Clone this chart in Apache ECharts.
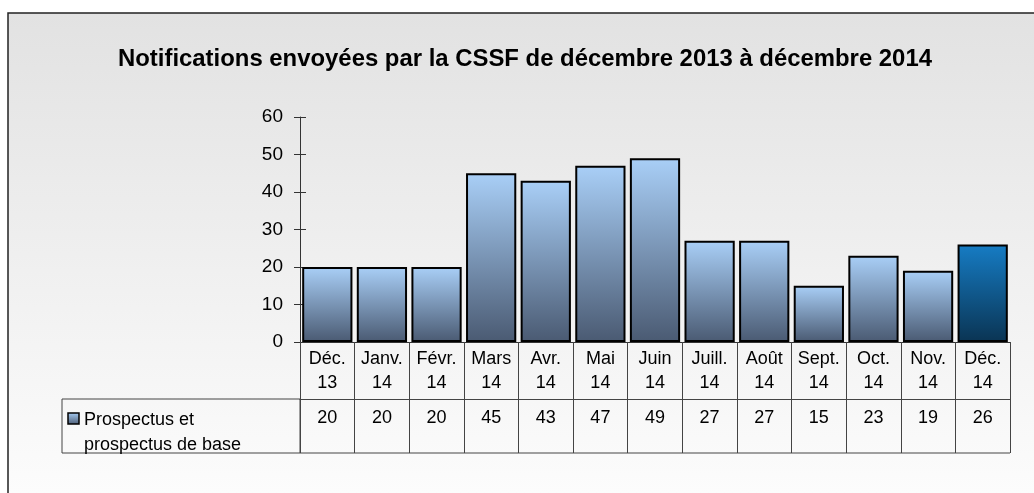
<!DOCTYPE html>
<html>
<head>
<meta charset="utf-8">
<script src="https://cdn.jsdelivr.net/npm/echarts@6/dist/echarts.min.js"></script>
<style>
  html, body { margin: 0; padding: 0; background: #fff; }
  #chart { width: 1034px; height: 493px; }
</style>
</head>
<body>
<div id="chart"></div>
<script>
/* Notifications CSSF déc. 2013 – déc. 2014 */

// --- Data ---
const months = ['Déc.\n13', 'Janv.\n14', 'Févr.\n14', 'Mars\n14', 'Avr.\n14', 'Mai\n14', 'Juin\n14',
                'Juill.\n14', 'Août\n14', 'Sept.\n14', 'Oct.\n14', 'Nov.\n14', 'Déc.\n14'];
const prospectus = [20, 20, 20, 45, 43, 47, 49, 27, 27, 15, 23, 19, 26];
const seriesName = 'Prospectus et\nprospectus de base';
const title = 'Notifications envoyées par la CSSF de décembre 2013 à décembre 2014';

const FONT = '"Liberation Sans", Arial, sans-serif';

// grid box (px)
const G = { left: 300, right: 1010, top: 117, bottom: 342 };
const ROW1 = 57, ROW2 = 54;
const TABLE_LEFT = 62;

const grad = (top, bottom) => new echarts.graphic.LinearGradient(0, 0, 0, 1, [
    { offset: 0, color: top }, { offset: 1, color: bottom }
]);
const normalFill = () => grad('#a9cff7', '#4a5a72');
const lastFill = () => grad('#167cc4', '#0a3453');

const chart = echarts.init(document.getElementById('chart'));
chart.setOption({
    backgroundColor: '#fff',
    animation: false,
    title: {
        text: title,
        left: 113,
        top: 42,
        textStyle: { fontFamily: FONT, fontSize: 23.9, fontWeight: 'bold', color: '#000' }
    },
    grid: { left: G.left, right: 1034 - G.right, top: G.top, bottom: 493 - G.bottom },
    xAxis: [{
        type: 'category',
        data: months,
        axisLine: { onZero: false, lineStyle: { color: '#333', width: 1 } },
        axisTick: { show: true, interval: 0, length: ROW1, lineStyle: { color: '#444' } },
        axisLabel: { fontFamily: FONT, fontSize: 18, color: '#000', lineHeight: 24, margin: 5, interval: 0 }
    }, {
        type: 'category',
        position: 'bottom',
        offset: ROW1,
        data: prospectus.map(String),
        axisLine: { show: true, onZero: false, lineStyle: { color: '#444', width: 1 } },
        axisTick: { show: true, interval: 0, length: ROW2, lineStyle: { color: '#444' } },
        axisLabel: { fontFamily: FONT, fontSize: 18, color: '#000', margin: 10, interval: 0 }
    }],
    yAxis: [{
        type: 'value',
        min: 0, max: 60, interval: 10,
        splitLine: { show: false },
        axisLine: { show: true, lineStyle: { color: '#333' } },
        axisTick: { show: true, length: 6, lineStyle: { color: '#333' } },
        axisLabel: { fontFamily: FONT, fontSize: 19, color: '#000', margin: 17 }
    }, {
        type: 'value',
        position: 'left',
        min: 0, max: 60, interval: 10,
        splitLine: { show: false },
        axisLine: { show: false },
        axisTick: { show: true, inside: true, length: 6, lineStyle: { color: '#333' } },
        axisLabel: { show: false }
    }],
    series: [{
        type: 'bar',
        name: seriesName,
        data: prospectus.map((v, i) => ({
            value: v,
            itemStyle: { color: i === prospectus.length - 1 ? lastFill() : normalFill() }
        })),
        barCategoryGap: '8%',
        itemStyle: { borderColor: '#000', borderWidth: 2 }
    }],
    graphic: [
        // panel background
        {
            type: 'rect', z: -100, silent: true,
            shape: { x: 8, y: 13, width: 1026, height: 480 },
            style: { fill: grad('#e2e2e2', '#fcfcfc') }
        },
        // frame: top and left edges only (the others fall outside the picture)
        {
            type: 'polyline', z: -99, silent: true,
            shape: { points: [[8, 493], [8, 13], [1034, 13]] },
            style: { stroke: '#222', lineWidth: 1.5, fill: null }
        },
        // legend cell of the data table
        {
            type: 'rect', silent: true,
            shape: { x: TABLE_LEFT, y: G.bottom + ROW1, width: G.left - TABLE_LEFT, height: ROW2 },
            style: { fill: null, stroke: '#444', lineWidth: 1 }
        },
        {
            type: 'line', silent: true,
            shape: { x1: G.left, y1: G.bottom + ROW1 + ROW2, x2: G.right, y2: G.bottom + ROW1 + ROW2 },
            style: { stroke: '#444', lineWidth: 1 }
        },
        {
            type: 'rect', silent: true,
            shape: { x: 68, y: 413, width: 11, height: 11 },
            style: { fill: grad('#a9cff7', '#4a5a72'), stroke: '#000', lineWidth: 1.5 }
        },
        {
            type: 'text', silent: true,
            left: 84, top: 408,
            style: { text: seriesName, font: '18px ' + FONT, fill: '#000', lineHeight: 25 }
        }
    ]
});
</script>
</body>
</html>
